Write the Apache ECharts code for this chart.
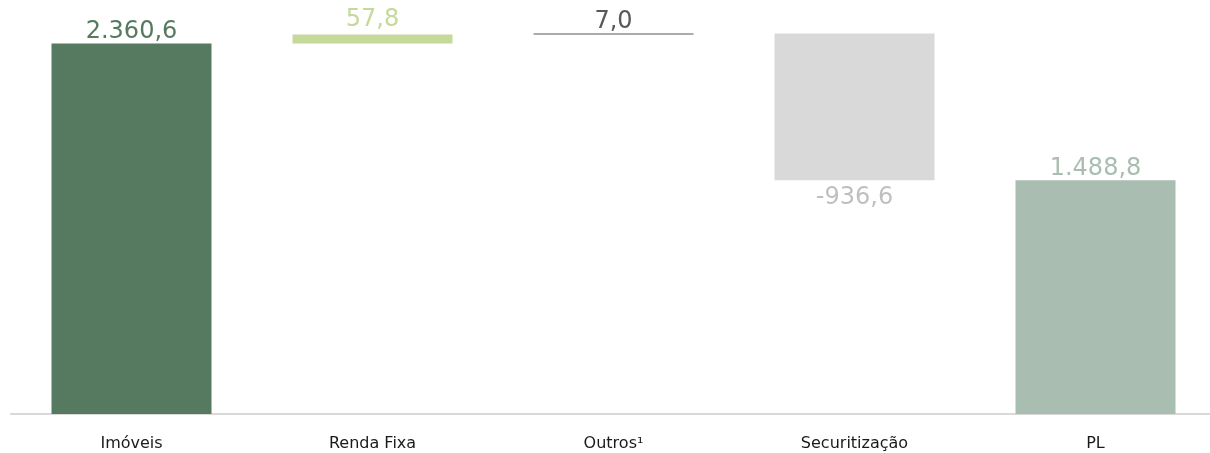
<!DOCTYPE html>
<html>
<head>
<meta charset="utf-8">
<style>
  html, body { margin: 0; padding: 0; background: #ffffff; overflow: hidden; width: 1210px; height: 453px; }
  #chart { width: 1216px; height: 453px; }
</style>
<script src="https://cdn.jsdelivr.net/npm/echarts@6/dist/echarts.min.js"></script>
</head>
<body>
<div id="chart"></div>
<script>
// Composição do PL (R$ milhões)
const categories = ['Imóveis', 'Renda Fixa', 'Outros¹', 'Securitização', 'PL'];
const values = [2360.6, 57.8, 7.0, -936.6, 1488.8];
const isTotal = [false, false, false, false, true];
const colors = ['#557a5f', '#c5d99b', '#595959', '#d9d9d9', '#a9bdb0'];
const labelColors = ['#557a5f', '#c5d99b', '#595959', '#bfbfbf', '#a9bdb0'];

function fmt(v) {
  const parts = Math.abs(v).toFixed(1).split('.');
  const intPart = parts[0].replace(/\B(?=(\d{3})+(?!\d))/g, '.');
  return (v < 0 ? '-' : '') + intPart + ',' + parts[1];
}

// Waterfall: invisible base + visible step
const baseData = [];
const stepData = [];
let running = 0;
values.forEach((v, i) => {
  let base, h;
  if (isTotal[i]) {
    base = 0; h = v; running = v;
  } else if (v >= 0) {
    base = running; h = v; running += v;
  } else {
    running += v; base = running; h = -v;
  }
  baseData.push(base);
  const neg = v < 0;
  stepData.push({
    value: h,
    raw: v,
    itemStyle: { color: colors[i] },
    label: {
      position: neg ? 'bottom' : 'top',
      distance: neg ? 5 : (i === 1 ? 3 : 0),
      color: labelColors[i]
    }
  });
});

const chart = echarts.init(document.getElementById('chart'));
chart.setOption({
  animation: false,
  textStyle: { fontFamily: 'DejaVu Sans' },
  grid: { left: 11, right: 0, top: 6, bottom: 39, containLabel: false },
  xAxis: {
    type: 'category',
    data: categories,
    axisLine: { show: true, lineStyle: { color: '#d9d9d9', width: 2 } },
    axisTick: { show: false },
    axisLabel: { color: '#1a1a1a', fontSize: 16, margin: 22, fontFamily: 'DejaVu Sans' }
  },
  yAxis: {
    type: 'value',
    min: 0,
    max: 2600,
    show: false,
    splitLine: { show: false }
  },
  series: [
    {
      type: 'bar',
      stack: 'w',
      barWidth: 160,
      itemStyle: { color: 'transparent' },
      emphasis: { disabled: true },
      data: baseData
    },
    {
      type: 'bar',
      stack: 'w',
      barWidth: 160,
      label: {
        show: true,
        fontSize: 24,
        fontFamily: 'DejaVu Sans',
        formatter: p => fmt(p.data.raw)
      },
      data: stepData
    }
  ]
});
</script>
</body>
</html>
